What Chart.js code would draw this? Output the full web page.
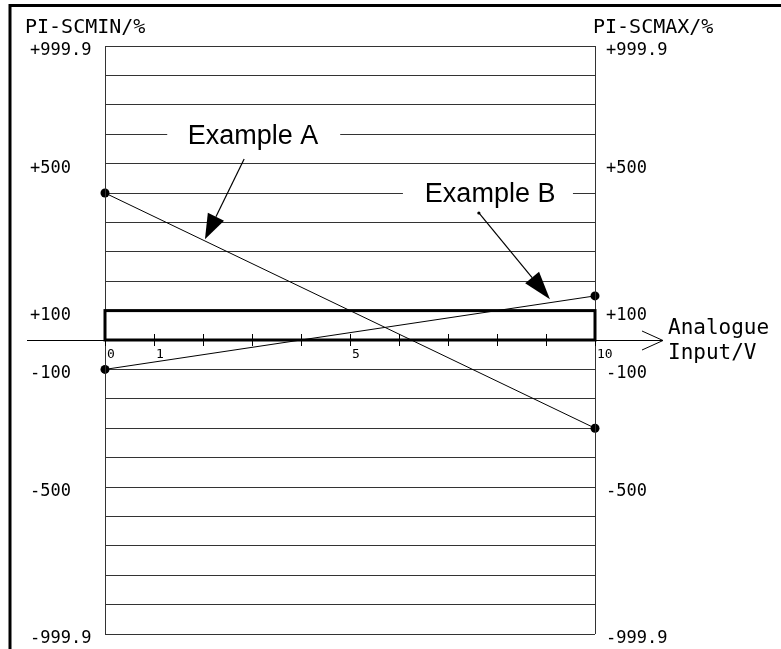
<!DOCTYPE html>
<html><head><meta charset="utf-8">
<script src="https://cdn.jsdelivr.net/npm/chart.js@4.4.0/dist/chart.umd.min.js"></script>
<style>html,body{margin:0;padding:0;background:#fff;}canvas{display:block;}</style>
</head><body>
<canvas id="c" width="781" height="649"></canvas>
<script>
// ---- data (y in grid rows: one row per horizontal gridline) ----
const inputVolts = [0, 10];
const exampleA = [5, -3];
const exampleB = [-1, 1.5];
const yTickRows = [10, 6, 1, -1, -5, -10];
const yTickLabels = ['+999.9', '+500', '+100', '-100', '-500', '-999.9'];
const xTickValues = [0, 1, 2, 3, 4, 5, 6, 7, 8, 9, 10];
const xTickLabels = ['0', '1', '', '', '', '5', '', '', '', '', '10'];
const bandRows = [0, 1];
const leftTitle = 'PI-SCMIN/%';
const rightTitle = 'PI-SCMAX/%';
const xTitle = ['Analogue', 'Input/V'];
const labelNames = ['Example A', 'Example B'];
const labelX = [3.02, 7.86];
const labelRow = [7, 5];
const labelGapFrom = [1.27, 6.08];
const labelGapTo = [4.8, 9.55];
const arrowFromX = [2.84, 7.63];
const arrowFromY = [6.16, 4.32];
const arrowToX = [2.04, 9.08];
const arrowToY = [3.43, 1.39];

const MONO = '"DejaVu Sans Mono", monospace';
const SANS = '"Liberation Sans", Arial, sans-serif';

function pts(ys) { return inputVolts.map((x, i) => ({ x: x, y: ys[i] })); }

const decor = {
  id: 'decor',
  afterDraw(chart) {
    const ctx = chart.ctx, xs = chart.scales.x, ys = chart.scales.y;
    const X = v => xs.getPixelForValue(v), Y = v => ys.getPixelForValue(v);
    const L = X(0), R = X(10), T = Y(10), B = Y(-10), Z = Y(0);
    ctx.save();
    ctx.fillStyle = '#000';
    // vertical borders of the plot
    ctx.lineWidth = 1;
    ctx.strokeStyle = '#333';
    ctx.beginPath();
    ctx.moveTo(Math.round(L) + 0.5, T); ctx.lineTo(Math.round(L) + 0.5, B);
    ctx.moveTo(Math.round(R) + 0.5, T); ctx.lineTo(Math.round(R) + 0.5, B);
    ctx.stroke();
    ctx.strokeStyle = '#000';
    // gaps in gridlines behind labels
    ctx.fillStyle = '#fff';
    for (let i = 0; i < labelNames.length; i++) {
      const a = X(labelGapFrom[i]), b = X(labelGapTo[i]);
      ctx.fillRect(a, Y(labelRow[i]) - 3, b - a, 6);
    }
    ctx.fillStyle = '#000';
    // thick band rectangle
    ctx.lineWidth = 3;
    ctx.strokeRect(L, Y(bandRows[1]), R - L, Y(bandRows[0]) - Y(bandRows[1]));
    // x axis line with open arrow
    ctx.lineWidth = 1;
    ctx.beginPath();
    ctx.moveTo(27, Math.round(Z) + 0.5); ctx.lineTo(663, Math.round(Z) + 0.5);
    ctx.moveTo(642, Z - 9); ctx.lineTo(663, Z + 0.5); ctx.lineTo(642, Z + 10);
    ctx.stroke();
    // x ticks
    ctx.beginPath();
    xTickValues.forEach(v => {
      const px = Math.round(X(v)) + 0.5;
      ctx.moveTo(px, Z - 6); ctx.lineTo(px, Z + 6);
    });
    ctx.stroke();
    // x tick labels
    ctx.font = '13px ' + MONO;
    ctx.textAlign = 'left';
    ctx.textBaseline = 'alphabetic';
    xTickValues.forEach((v, i) => {
      if (xTickLabels[i]) ctx.fillText(xTickLabels[i], X(v) + 2, Z + 18);
    });
    // y labels both sides
    ctx.font = '17px ' + MONO;
    yTickRows.forEach((r, i) => {
      const py = Y(r);
      ctx.fillText(yTickLabels[i], 30, py + 9);
      ctx.fillText(yTickLabels[i], 606, py + 9);
    });
    // titles
    ctx.font = '20px ' + MONO;
    ctx.fillText(leftTitle, 25, 33);
    ctx.fillText(rightTitle, 593, 33);
    ctx.font = '21px ' + MONO;
    ctx.fillText(xTitle[0], 668, Z - 6);
    ctx.fillText(xTitle[1], 668, Z + 19);
    // example labels
    ctx.font = '27px ' + SANS;
    ctx.textAlign = 'center';
    ctx.textBaseline = 'middle';
    for (let i = 0; i < labelNames.length; i++) {
      ctx.fillText(labelNames[i], X(labelX[i]), Y(labelRow[i]) + 2);
    }
    // arrows
    for (let i = 0; i < arrowFromX.length; i++) {
      const x0 = X(arrowFromX[i]), y0 = Y(arrowFromY[i]);
      const x1 = X(arrowToX[i]), y1 = Y(arrowToY[i]);
      const dx = x1 - x0, dy = y1 - y0, len = Math.hypot(dx, dy);
      const ux = dx / len, uy = dy / len, nx = -uy, ny = ux;
      const hl = i === 0 ? 25 : 28, hw = i === 0 ? 9 : 9;
      const bx = x1 - ux * hl, by = y1 - uy * hl;
      ctx.lineWidth = 1.2;
      ctx.beginPath(); ctx.moveTo(x0, y0); ctx.lineTo(bx, by); ctx.stroke();
      ctx.beginPath();
      ctx.moveTo(x1, y1);
      ctx.lineTo(bx + nx * hw, by + ny * hw);
      ctx.lineTo(bx - nx * hw, by - ny * hw);
      ctx.closePath(); ctx.fill();
      if (i === 1) { ctx.beginPath(); ctx.arc(x0, y0, 1.6, 0, Math.PI * 2); ctx.fill(); }
    }
    // outer frame (top and left)
    ctx.lineWidth = 3;
    ctx.beginPath();
    ctx.moveTo(10, 649); ctx.lineTo(10, 5.5); ctx.lineTo(781, 5.5);
    ctx.stroke();
    ctx.restore();
  }
};

new Chart(document.getElementById('c'), {
  type: 'line',
  data: {
    datasets: [
      { label: labelNames[0], data: pts(exampleA), borderColor: '#000', backgroundColor: '#000',
        borderWidth: 1, pointRadius: 4.5, pointBackgroundColor: '#000', pointBorderWidth: 0, clip: false },
      { label: labelNames[1], data: pts(exampleB), borderColor: '#000', backgroundColor: '#000',
        borderWidth: 1, pointRadius: 4.5, pointBackgroundColor: '#000', pointBorderWidth: 0, clip: false }
    ]
  },
  options: {
    responsive: false,
    animation: false,
    layout: { padding: { left: 105, right: 186, top: 46, bottom: 15 } },
    plugins: { legend: { display: false }, tooltip: { enabled: false } },
    scales: {
      x: { type: 'linear', min: 0, max: 10, display: false },
      y: {
        type: 'linear', min: -10, max: 10,
        ticks: { display: false, stepSize: 1 },
        grid: { color: '#333', lineWidth: 1, drawTicks: false },
        border: { display: false },
        afterFit(s) { s.width = 0; }
      }
    }
  },
  plugins: [decor]
});
</script>
</body></html>
